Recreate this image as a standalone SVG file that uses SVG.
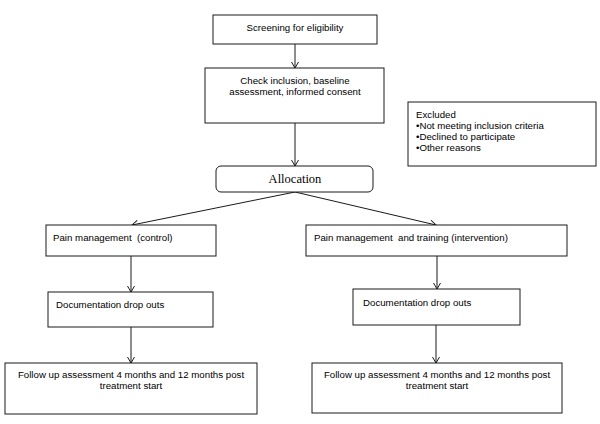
<svg xmlns="http://www.w3.org/2000/svg" width="600" height="424" viewBox="0 0 600 424">
<style>
.box{fill:#fff;stroke:#1a1a1a;stroke-width:1}
.t{font-family:"Liberation Sans",Arial,sans-serif;font-size:9.7px;fill:#000}
.c{text-anchor:middle}
.serif{font-family:"Liberation Serif","Times New Roman",serif;font-size:12.5px;fill:#000;text-anchor:middle}
.ln{stroke:#1a1a1a;stroke-width:1;fill:none;marker-end:url(#ah)}
</style>
<defs>
<marker id="ah" markerWidth="8" markerHeight="8" refX="7" refY="4" orient="auto" markerUnits="userSpaceOnUse">
<path d="M1,0.5 L7,4 L1,7.5" fill="none" stroke="#1a1a1a" stroke-width="1"/>
</marker>
</defs>
<rect width="600" height="424" fill="#fff"/>
<g id="connectors">
<line class="ln" x1="295" y1="44" x2="295" y2="68"/>
<line class="ln" x1="295" y1="123" x2="295" y2="166"/>
<line class="ln" x1="295" y1="192" x2="132" y2="225"/>
<line class="ln" x1="295" y1="192" x2="436" y2="225"/>
<line class="ln" x1="131" y1="256" x2="131" y2="292"/>
<line class="ln" x1="437" y1="256" x2="437" y2="289"/>
<line class="ln" x1="131" y1="327" x2="131" y2="363"/>
<line class="ln" x1="436" y1="325" x2="436" y2="363"/>
</g>
<g id="screening">
<rect class="box" x="213" y="15" width="164" height="29"/>
<text class="t c" x="295" y="31">Screening for eligibility</text>
</g>
<g id="check">
<rect class="box" x="205" y="68" width="179" height="55"/>
<text class="t c" x="295" y="84">Check inclusion, baseline</text>
<text class="t c" x="295" y="95">assessment, informed consent</text>
</g>
<g id="excluded">
<rect class="box" x="408" y="102" width="188" height="64"/>
<text class="t" x="416" y="118">Excluded</text>
<text class="t" x="416" y="129">•Not meeting inclusion criteria</text>
<text class="t" x="416" y="140">•Declined to participate</text>
<text class="t" x="416" y="151">•Other reasons</text>
</g>
<g id="allocation">
<rect class="box" x="216" y="166" width="157" height="26" rx="5"/>
<text class="serif" x="295" y="183">Allocation</text>
</g>
<g id="control">
<rect class="box" x="46" y="225" width="170" height="31"/>
<text class="t" x="53" y="241" xml:space="preserve">Pain management  (control)</text>
</g>
<g id="intervention">
<rect class="box" x="306" y="225" width="261" height="31"/>
<text class="t" x="314" y="241" xml:space="preserve">Pain management  and training (intervention)</text>
</g>
<g id="dropouts-left">
<rect class="box" x="48" y="292" width="165" height="35"/>
<text class="t" x="56" y="308">Documentation drop outs</text>
</g>
<g id="dropouts-right">
<rect class="box" x="353" y="289" width="167" height="36"/>
<text class="t" x="363" y="306">Documentation drop outs</text>
</g>
<g id="followup-left">
<rect class="box" x="5" y="363" width="252" height="51"/>
<text class="t c" x="131" y="378">Follow up assessment 4 months and 12 months post</text>
<text class="t c" x="131" y="389">treatment start</text>
</g>
<g id="followup-right">
<rect class="box" x="312" y="363" width="250" height="50"/>
<text class="t c" x="437" y="378">Follow up assessment 4 months and 12 months post</text>
<text class="t c" x="437" y="389">treatment start</text>
</g>
</svg>
